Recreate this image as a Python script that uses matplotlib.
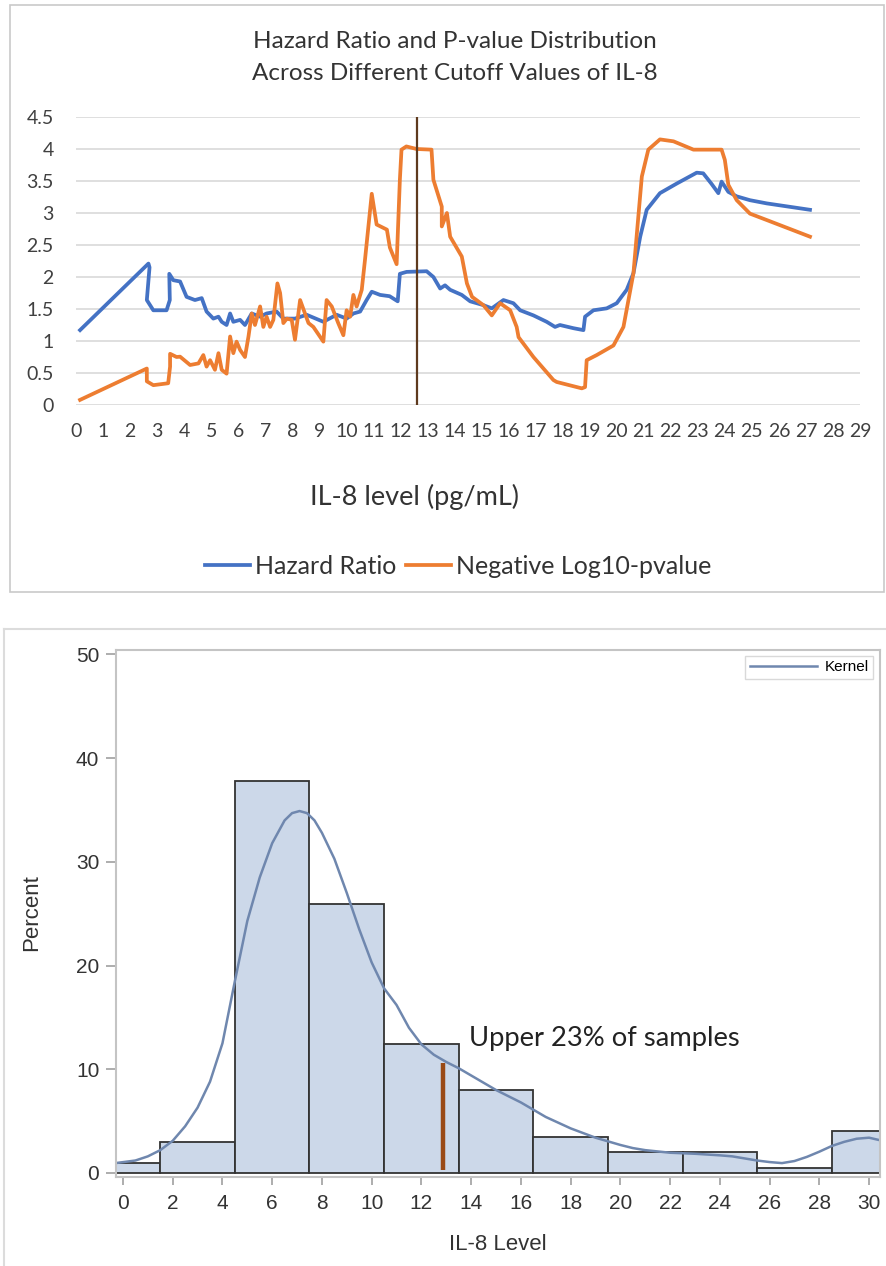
import matplotlib.pyplot as plt
from matplotlib.patches import Rectangle
from matplotlib.lines import Line2D

# ---- top panel: hazard ratio / -log10 p over IL-8 cutoffs
hr_x = [0.15, 2.68, 2.72, 2.62, 2.86, 3.35, 3.47, 3.45, 3.60, 3.85, 4.09, 4.40, 4.65, 4.83, 5.08,
        5.27, 5.39, 5.57, 5.70, 5.82, 6.07, 6.25, 6.50, 6.81, 7.05, 7.42, 7.67, 8.10, 8.53, 9.15,
        9.64, 10.01, 10.26, 10.51, 10.75, 10.94, 11.25, 11.60, 11.90, 11.98, 12.23, 12.97, 13.22,
        13.47, 13.65, 13.84, 14.27, 14.58, 15.07, 15.38, 15.81, 16.18, 16.43, 16.92, 17.41, 17.72,
        17.90, 18.40, 18.77, 18.83, 19.14, 19.63, 20.00, 20.37, 20.62, 20.87, 21.11, 21.60, 22.22,
        22.96, 23.20, 23.50, 23.76, 23.88, 24.13, 24.44, 24.93, 25.55, 27.15]
hr_y = [1.17, 2.21, 2.15, 1.64, 1.48, 1.48, 1.64, 2.05, 1.95, 1.93, 1.69, 1.64, 1.67, 1.46, 1.35,
        1.38, 1.30, 1.25, 1.43, 1.30, 1.33, 1.25, 1.43, 1.38, 1.43, 1.46, 1.35, 1.35, 1.41, 1.30,
        1.41, 1.35, 1.43, 1.46, 1.64, 1.77, 1.72, 1.70, 1.62, 2.05, 2.08, 2.09, 2.00,
        1.82, 1.87, 1.80, 1.72, 1.62, 1.56, 1.51, 1.64, 1.59, 1.48, 1.40, 1.30, 1.22,
        1.25, 1.20, 1.17, 1.38, 1.48, 1.51, 1.59, 1.80, 2.06, 2.63, 3.05, 3.31, 3.46,
        3.63, 3.62, 3.46, 3.31, 3.49, 3.33, 3.26, 3.20, 3.15, 3.05]

nlp_x = [0.15, 2.62, 2.62, 2.86, 3.41, 3.48, 3.48, 3.72, 3.85, 4.22, 4.53, 4.71, 4.83, 4.96, 5.14,
         5.27, 5.39, 5.57, 5.70, 5.82, 5.94, 6.07, 6.25, 6.38, 6.50, 6.62, 6.81, 6.93, 7.05, 7.18,
         7.30, 7.45, 7.55, 7.67, 7.80, 7.98, 8.10, 8.29, 8.47, 8.60, 8.78, 9.15, 9.27, 9.46, 9.70,
         9.89, 10.01, 10.14, 10.26, 10.38, 10.57, 10.69, 10.94, 11.12, 11.50, 11.61, 11.86, 11.98,
         12.04, 12.22, 12.60, 13.15, 13.22, 13.53, 13.53, 13.72, 13.84, 14.27, 14.46, 14.65, 15.07,
         15.38, 15.69, 16.06, 16.30, 16.37, 16.92, 17.66, 17.78, 18.71, 18.83, 18.89, 19.26, 19.88,
         20.25, 20.62, 20.80, 20.93, 21.17, 21.60, 22.10, 22.84, 23.88, 24.00, 24.13, 24.44, 24.93,
         25.55, 27.15]
nlp_y = [0.08, 0.57, 0.37, 0.31, 0.34, 0.60, 0.80, 0.75, 0.755, 0.625, 0.65, 0.78, 0.60, 0.70, 0.55,
         0.81, 0.55, 0.49, 1.07, 0.81, 0.99, 0.86, 0.75, 1.07, 1.43, 1.25, 1.54, 1.22, 1.38, 1.22,
         1.33, 1.90, 1.75, 1.28, 1.35, 1.33, 1.02, 1.64, 1.43, 1.28, 1.22, 0.99, 1.64, 1.54, 1.28,
         1.09, 1.48, 1.38, 1.72, 1.54, 1.80, 2.27, 3.30, 2.82, 2.74, 2.46, 2.20, 3.52,
         3.99, 4.04, 4.00, 3.99, 3.52, 3.10, 2.79, 3.00, 2.63, 2.32, 1.90, 1.69, 1.56,
         1.40, 1.59, 1.48, 1.22, 1.06, 0.75, 0.39, 0.36, 0.26, 0.28, 0.70, 0.78, 0.93,
         1.22, 2.06, 2.94, 3.57, 3.99, 4.15, 4.12, 3.99, 3.99, 3.83, 3.44, 3.20, 2.99,
         2.89, 2.63]

cutoff_top = 12.6
top_xticks = list(range(0, 30))
top_yticks = [0, 0.5, 1, 1.5, 2, 2.5, 3, 3.5, 4, 4.5]
top_ylabels = ["0", "0.5", "1", "1.5", "2", "2.5", "3", "3.5", "4", "4.5"]

# ---- bottom panel: histogram of IL-8 level
bin_centers = [0, 3, 6, 9, 12, 15, 18, 21, 24, 27, 30]
percents = [1.0, 3.0, 37.8, 25.9, 12.4, 8.0, 3.5, 2.0, 2.0, 0.5, 4.0]
bin_width = 3

kde_x = [-0.3, 0.5, 1.0, 1.5, 2.0, 2.5, 3.0, 3.5, 4.0, 4.5, 5.0, 5.5, 6.0, 6.5, 6.8, 7.1, 7.4,
         7.7, 8.0, 8.5, 9.0, 9.5, 10.0, 10.5, 11.0, 11.5, 12.0, 12.5, 13.0, 13.5, 14.0, 15.0,
         16.0, 16.5, 17.0, 18.0, 19.0, 20.0, 20.5, 21.0, 22.0, 22.5, 23.0, 24.0, 24.5, 25.0,
         25.5, 26.0, 26.5, 27.0, 27.5, 28.0, 28.5, 29.0, 29.5, 30.0, 30.45]
kde_y = [0.95, 1.2, 1.6, 2.2, 3.1, 4.5, 6.3, 8.8, 12.5, 18.5, 24.3, 28.5, 31.8, 34.0, 34.7, 34.9,
         34.7, 34.0, 32.8, 30.3, 27.0, 23.5, 20.3, 17.8, 16.2, 14.0, 12.4, 11.4, 10.7, 10.1, 9.4,
         8.0, 6.8, 6.1, 5.4, 4.3, 3.4, 2.7, 2.4, 2.2, 1.95, 1.9, 1.85, 1.7, 1.6, 1.4, 1.2, 1.05,
         0.95, 1.15, 1.55, 2.05, 2.6, 3.0, 3.3, 3.4, 3.15]

cutoff_hist = 12.88
cutoff_hist_bottom = 0.3
cutoff_hist_top = 10.6

W, H = 886, 1266
fig = plt.figure(figsize=(W / 100, H / 100), dpi=100)

# outer panel frames
fig.patches.append(Rectangle((10 / W, 1 - 592 / H), 874 / W, 587 / H, transform=fig.transFigure,
                             fill=False, edgecolor="#c9c9c9", lw=1.2))
fig.lines.append(Line2D([4 / W, 1], [1 - 629 / H, 1 - 629 / H], transform=fig.transFigure,
                        color="#dcdcdc", lw=1.5))
fig.lines.append(Line2D([4 / W, 4 / W], [0, 1 - 629 / H], transform=fig.transFigure,
                        color="#dcdcdc", lw=1.5))

# top chart
excel_font = ["Lato", "DejaVu Sans"]
ax1 = fig.add_axes([76 / W, 1 - 405 / H, 784 / W, 288 / H])
ax1.plot(hr_x, hr_y, color="#4472C4", lw=2.7, label="Hazard Ratio", solid_joinstyle="round")
ax1.plot(nlp_x, nlp_y, color="#ED7D31", lw=2.7, label="Negative Log10-pvalue",
         solid_joinstyle="round")
ax1.axvline(cutoff_top, color="#5E3A1E", lw=1.6, zorder=3)
ax1.set_xlim(0, 29)
ax1.set_ylim(0, 4.5)
ax1.set_xticks(top_xticks)
ax1.set_xticklabels([str(t) for t in top_xticks], fontfamily=excel_font, fontsize=14,
                    color="#404040")
ax1.set_yticks(top_yticks)
ax1.set_yticklabels(top_ylabels, fontfamily=excel_font, fontsize=14, color="#404040")
ax1.tick_params(length=0)
ax1.tick_params(axis="y", pad=16)
ax1.tick_params(axis="x", pad=13)
ax1.grid(axis="y", color="#d9d9d9", lw=1.2)
ax1.set_axisbelow(True)
for s in ax1.spines.values():
    s.set_visible(False)

fig.text(455 / W, 1 - 42 / H, "Hazard Ratio and P-value Distribution", ha="center", va="center",
         fontsize=17.5, fontfamily=excel_font, color="#333333")
fig.text(455 / W, 1 - 73 / H, "Across Different Cutoff Values of IL-8", ha="center",
         va="center", fontsize=17.5, fontfamily=excel_font, color="#333333")
fig.text(414 / W, 1 - 497 / H, "IL-8 level (pg/mL)", ha="center", va="center", fontsize=19.5,
         fontfamily=excel_font, color="#333333")

handles, labels = ax1.get_legend_handles_labels()
leg = fig.legend(handles, labels, loc="center", bbox_to_anchor=(458 / W, 1 - 566 / H), ncol=2,
                 frameon=False, handlelength=1.8, handletextpad=0.2, columnspacing=0.4,
                 prop={"family": excel_font, "size": 18})
for t in leg.get_texts():
    t.set_color("#333333")

# bottom chart
sas_font = ["Liberation Sans", "DejaVu Sans"]
ax2 = fig.add_axes([116 / W, 1 - 1177 / H, 764 / W, 527 / H])
ax2.bar(bin_centers, percents, width=bin_width, color="#ccd8e9", edgecolor="#333333", lw=1.3)
ax2.plot(kde_x, kde_y, color="#6f87ae", lw=1.8, label="Kernel")
ax2.vlines(cutoff_hist, cutoff_hist_bottom, cutoff_hist_top, color="#9a4a16", lw=3.2)
ax2.text(13.9, 13.0, "Upper 23% of samples", ha="left", va="center", fontsize=19.7,
         fontfamily=excel_font, color="#222222")
ax2.set_xlim(-0.28, 30.44)
ax2.set_ylim(-0.39, 50.43)
ax2.set_xticks(range(0, 31, 2))
ax2.set_yticks(range(0, 51, 10))
ax2.tick_params(direction="out", color="#a0a0a0", width=1.2, labelsize=15, labelcolor="#333333")
ax2.tick_params(axis="x", length=6, pad=6)
ax2.tick_params(axis="y", length=7, pad=5)
for lab in ax2.get_xticklabels() + ax2.get_yticklabels():
    lab.set_fontfamily(sas_font)
for s in ax2.spines.values():
    s.set_color("#c4c4c4")
    s.set_linewidth(1.5)
fig.text(32 / W, 1 - 913 / H, "Percent", rotation=90, ha="center", va="center", fontsize=16,
         fontfamily=sas_font, color="#333333")
fig.text(498 / W, 1 - 1244 / H, "IL-8 Level", ha="center", va="center", fontsize=16,
         fontfamily=sas_font, color="#333333")
kleg = ax2.legend(loc="upper right", bbox_to_anchor=(0.991, 0.989), borderaxespad=0,
                  fancybox=False, handlelength=4.4, borderpad=0.3, handletextpad=0.5,
                  prop={"family": sas_font, "size": 11})
kleg.get_frame().set_edgecolor("#d0d0d0")
kleg.get_frame().set_linewidth(1.0)

fig.savefig("out.png", dpi=100)
